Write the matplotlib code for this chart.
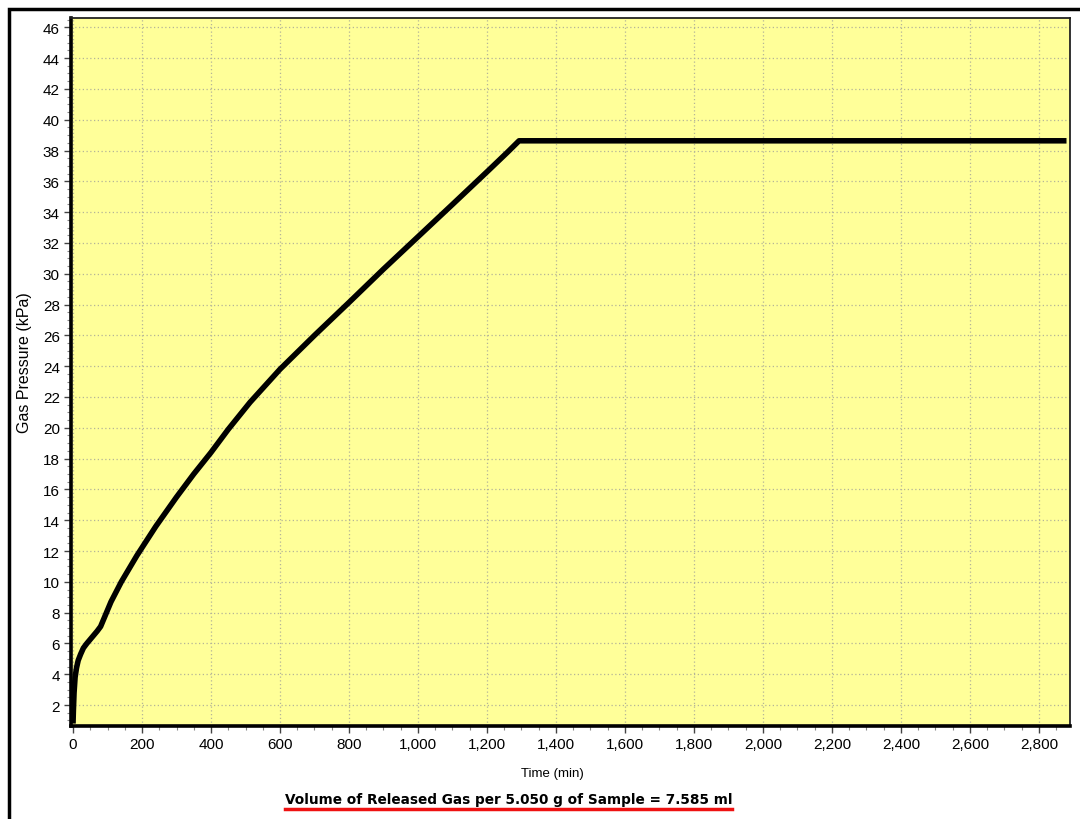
import numpy as np
import matplotlib
matplotlib.use('Agg')
import matplotlib.pyplot as plt
from matplotlib.ticker import MultipleLocator, FuncFormatter
from matplotlib.patches import Rectangle
from matplotlib.lines import Line2D

# pressure curve of released gas (time in min, pressure in kPa)
time_min = [0, 1, 3, 6, 10, 15, 22, 30, 40, 55, 70, 80, 95, 110, 140,
            185, 240, 300, 350, 400, 450, 513, 600, 700, 803, 900, 1000,
            1100, 1204, 1260, 1293, 2880]
pressure_kpa = [0.8, 1.6, 2.8, 3.8, 4.4, 4.9, 5.3, 5.7, 6.0, 6.4, 6.8, 7.1,
                7.9, 8.7, 10.0, 11.7, 13.6, 15.5, 17.0, 18.4, 19.9, 21.65,
                23.8, 26.0, 28.2, 30.3, 32.4, 34.5, 36.7, 37.9, 38.63,
                38.63]

x_ticks = list(range(0, 2801, 200))
y_ticks = list(range(2, 47, 2))
title_txt = 'Volume of Released Gas per 5.050 g of Sample = 7.585 ml'

plt.rcParams['font.family'] = ['Liberation Sans', 'DejaVu Sans']

fig = plt.figure(figsize=(10.8, 8.2), dpi=100)
ax = fig.add_axes([0.0657, 0.1134, 0.925, 0.8634])
ax.set_facecolor('#FFFF99')

ax.plot(time_min, pressure_kpa, color='black', lw=4, solid_capstyle='butt',
        solid_joinstyle='round', zorder=3)

ax.set_xlim(-6, 2890)
ax.set_ylim(0.64, 46.6)
ax.set_xticks(x_ticks)
ax.set_yticks(y_ticks)
ax.xaxis.set_minor_locator(MultipleLocator(50))
ax.yaxis.set_minor_locator(MultipleLocator(0.5))
ax.xaxis.set_major_formatter(FuncFormatter(lambda v, p: f'{int(v):,}'))

ax.grid(True, which='major', color='#b4b498', linestyle=(0, (1, 2)), lw=0.9)
ax.tick_params(axis='both', which='major', direction='out', length=5,
               width=1, color='#444444', labelsize=11, pad=3)
ax.tick_params(axis='both', which='minor', direction='out', length=3,
               width=0.8, color='#888888')

for side in ['left', 'bottom']:
    ax.spines[side].set_linewidth(2.6)
    ax.spines[side].set_color('black')
for side in ['top', 'right']:
    ax.spines[side].set_linewidth(1.3)
    ax.spines[side].set_color('#222222')

ax.set_xlabel('Time (min)', fontsize=9.5)
ax.xaxis.set_label_coords(0.482, -0.058)
ax.set_ylabel('Gas Pressure (kPa)', fontsize=11.5)
ax.yaxis.set_label_coords(-0.039, 0.515)

# outer frame
fig.patches.append(Rectangle((0.0079, -0.02), 1.02, 1.0139 - 0.006,
                             transform=fig.transFigure, fill=False,
                             edgecolor='black', lw=2.5, clip_on=False))

# title below the chart with red underline
t = fig.text(0.471, 0.0244, title_txt, ha='center', va='center',
             fontsize=9.8, fontweight='bold', family='DejaVu Sans')
fig.canvas.draw()
bb = t.get_window_extent().transformed(fig.transFigure.inverted())
fig.lines.append(Line2D([bb.x0, bb.x1], [bb.y0 - 0.004, bb.y0 - 0.004],
                        transform=fig.transFigure, color='#ee1111', lw=2.5))

fig.savefig('out.png', dpi=100)
